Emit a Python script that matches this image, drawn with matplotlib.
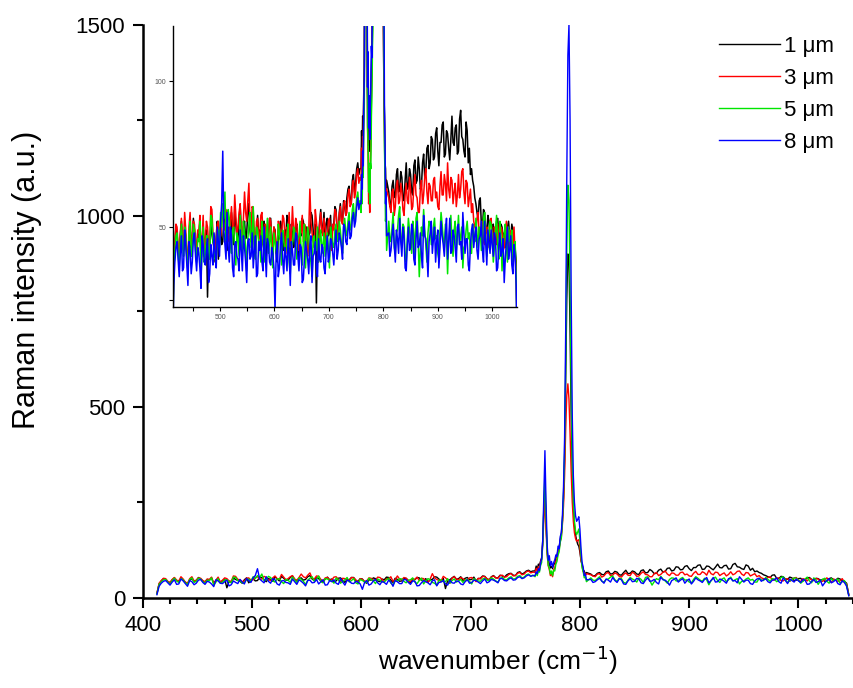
import matplotlib
matplotlib.use("Agg")
import matplotlib.pyplot as plt
import numpy as np
from matplotlib.ticker import MultipleLocator

plt.rcParams["font.family"] = ["Liberation Sans", "DejaVu Sans"]

# sampling grid (cm^-1): 2 cm^-1 on the baseline, 1 cm^-1 across the peaks
wn_low = np.arange(413, 758, 2)     # 413 ... 757
wn_peak = np.arange(759, 807, 1)    # 759 ... 806
wn_high = np.arange(810, 1047, 2)   # 810 ... 1046

labels = ["1 \u03bcm", "3 \u03bcm", "5 \u03bcm", "8 \u03bcm"]
colors = ["#000000", "#ff0000", "#00e600", "#0000ff"]

# ---- 1 um ----
black_low = [
    11, 36, 44, 50, 48, 42, 39, 47, 52, 45, 42, 49, 47, 40, 37, 46, 50, 43, 45, 53,
    49, 44, 41, 48, 46, 52, 38, 45, 51, 40, 44, 49, 26, 43, 40, 51, 48, 45, 43, 38,
    47, 52, 39, 46, 50, 44, 45, 54, 53, 47, 42, 50, 48, 43, 55, 49, 44, 56, 51, 46,
    46, 53, 57, 48, 43, 50, 52, 46, 48, 55, 58, 49, 45, 52, 50, 44, 41, 49, 54, 47,
    49, 42, 44, 51, 52, 46, 40, 48, 47, 53, 53, 45, 43, 50, 49, 41, 38, 47, 46, 52,
    50, 44, 42, 49, 47, 54, 53, 46, 40, 51, 48, 43, 44, 50, 51, 45, 39, 48, 47, 53,
    52, 46, 45, 50, 41, 47, 48, 55, 54, 49, 43, 51, 24, 45, 47, 52, 56, 48, 50, 55,
    45, 51, 53, 47, 48, 54, 44, 50, 51, 57, 56, 49, 47, 55, 58, 52, 52, 59, 57, 54,
    60, 63, 64, 59, 58, 66, 68, 62, 65, 70, 72, 68, 70,
]
black_peak = [
    70, 83, 74, 88, 84, 96, 105, 150, 230, 290,
    200, 125, 96, 90, 78, 82, 76, 90, 88, 104,
    110, 125, 132, 152, 168, 202, 260, 360, 560, 780,
    900, 880, 700, 480, 330, 240, 190, 165, 150, 140,
    135, 120, 98, 88, 72, 70, 60, 66,
]
black_high = [
    62, 57, 58, 64, 66, 61, 60, 68, 70, 62, 63, 69, 67, 60, 59, 66, 72, 63, 64, 70,
    68, 62, 61, 71, 73, 65, 66, 74, 70, 63, 64, 72, 75, 67, 69, 77, 78, 70, 72, 81,
    80, 73, 74, 82, 84, 76, 71, 79, 79, 85, 86, 74, 75, 83, 82, 77, 73, 80, 88, 79,
    78, 84, 85, 75, 76, 87, 90, 81, 80, 76, 74, 86, 83, 72, 77, 68, 70, 66, 64, 60,
    58, 55, 53, 59, 60, 51, 50, 56, 55, 49, 48, 54, 52, 45, 46, 50, 51, 44, 47, 52,
    53, 48, 45, 51, 50, 46, 48, 43, 44, 50, 52, 47, 46, 51, 49, 45, 43, 38, 8,
]

# ---- 3 um ----
red_low = [
    12, 38, 45, 51, 50, 43, 40, 48, 53, 46, 44, 55, 49, 41, 38, 50, 55, 44, 46, 52,
    51, 45, 42, 49, 48, 54, 37, 46, 54, 41, 46, 52, 50, 44, 43, 57, 56, 48, 47, 42,
    44, 51, 52, 46, 47, 53, 55, 49, 49, 56, 53, 47, 45, 52, 57, 50, 48, 61, 54, 47,
    50, 55, 58, 49, 46, 53, 62, 55, 52, 59, 65, 51, 49, 57, 56, 48, 44, 52, 53, 46,
    47, 54, 55, 48, 42, 51, 50, 45, 45, 53, 52, 47, 39, 50, 48, 43, 44, 52, 51, 46,
    46, 54, 53, 48, 41, 50, 49, 55, 43, 47, 57, 49, 47, 53, 51, 44, 42, 50, 48, 54,
    45, 51, 50, 43, 40, 49, 63, 52, 48, 45, 44, 56, 52, 47, 38, 51, 55, 49, 47, 53,
    50, 45, 46, 52, 53, 48, 42, 51, 49, 56, 55, 50, 47, 54, 57, 52, 51, 58, 59, 54,
    55, 61, 63, 57, 58, 64, 66, 60, 62, 68, 70, 65, 67,
]
red_peak = [
    66, 77, 70, 81, 78, 93, 100, 140, 205, 260,
    180, 115, 84, 74, 58, 62, 55, 73, 78, 95,
    102, 120, 127, 148, 158, 192, 240, 320, 440, 530,
    560, 520, 430, 330, 250, 200, 170, 155, 148, 150,
    152, 130, 97, 85, 68, 66, 58, 63,
]
red_high = [
    60, 57, 55, 62, 63, 54, 57, 64, 66, 58, 59, 65, 62, 56, 54, 61, 65, 59, 58, 67,
    63, 56, 57, 64, 68, 61, 60, 55, 55, 63, 66, 58, 61, 67, 70, 62, 58, 65, 64, 59,
    59, 66, 67, 60, 62, 57, 56, 64, 69, 61, 61, 68, 65, 59, 72, 63, 60, 67, 66, 58,
    62, 65, 57, 61, 68, 60, 63, 69, 70, 62, 58, 66, 65, 57, 60, 63, 55, 58, 52, 50,
    49, 53, 55, 47, 46, 51, 52, 45, 44, 49, 50, 43, 47, 52, 53, 46, 42, 50, 48, 44,
    51, 47, 45, 50, 49, 42, 43, 48, 52, 46, 40, 49, 47, 43, 44, 50, 41, 36, 7,
]

# ---- 5 um ----
green_low = [
    10, 35, 42, 47, 48, 41, 36, 45, 51, 44, 40, 50, 47, 39, 35, 48, 52, 40, 43, 51,
    49, 42, 38, 46, 45, 52, 33, 41, 50, 38, 41, 47, 47, 42, 39, 54, 53, 45, 44, 39,
    40, 47, 49, 43, 55, 50, 58, 53, 62, 45, 47, 56, 53, 44, 41, 49, 50, 42, 37, 48,
    46, 40, 54, 47, 40, 52, 48, 43, 35, 46, 51, 55, 43, 48, 57, 42, 39, 50, 49, 45,
    44, 38, 52, 47, 38, 43, 47, 53, 41, 45, 50, 39, 36, 48, 45, 42, 40, 51, 48, 44,
    37, 49, 46, 41, 42, 47, 51, 38, 34, 45, 44, 50, 49, 43, 39, 46, 47, 52, 41, 37,
    45, 51, 36, 44, 50, 47, 40, 38, 33, 46, 47, 42, 42, 50, 38, 45, 49, 41, 44, 48,
    40, 46, 48, 43, 36, 50, 46, 44, 43, 49, 51, 46, 45, 52, 49, 44, 41, 50, 53, 48,
    47, 52, 55, 49, 50, 56, 58, 52, 54, 60, 62, 57, 59,
]
green_peak = [
    55, 66, 58, 70, 67, 84, 92, 140, 240, 320,
    210, 120, 85, 78, 62, 70, 58, 72, 70, 88,
    95, 112, 120, 145, 156, 198, 270, 380, 620, 900,
    1080, 1040, 820, 560, 360, 250, 200, 175, 165, 172,
    180, 150, 110, 78, 68, 52, 55, 42,
]
green_high = [
    52, 46, 45, 50, 55, 43, 41, 48, 49, 54, 57, 47, 43, 51, 50, 40, 38, 46, 53, 49,
    46, 41, 52, 48, 40, 53, 55, 45, 33, 42, 50, 47, 56, 49, 44, 38, 48, 52, 51, 44,
    44, 50, 53, 46, 47, 41, 39, 48, 55, 51, 46, 43, 51, 47, 34, 45, 50, 54, 45, 40,
    49, 52, 42, 47, 54, 44, 47, 50, 36, 43, 44, 49, 52, 46, 48, 41, 41, 51, 47, 45,
    53, 48, 43, 50, 49, 42, 45, 53, 55, 47, 40, 44, 47, 52, 51, 46, 38, 43, 49, 54,
    44, 39, 52, 47, 35, 44, 48, 51, 43, 38, 50, 45, 46, 49, 38, 42, 45, 33, 6,
]

# ---- 8 um ----
blue_low = [
    8, 30, 38, 43, 45, 39, 33, 41, 47, 35, 36, 49, 44, 37, 30, 45, 42, 34, 38, 46,
    48, 40, 35, 43, 41, 36, 29, 47, 44, 38, 37, 42, 46, 31, 34, 44, 40, 37, 48, 41,
    36, 50, 45, 40, 52, 58, 76, 49, 44, 39, 55, 43, 38, 50, 47, 36, 33, 44, 45, 40,
    39, 35, 49, 42, 35, 47, 43, 38, 31, 45, 46, 39, 40, 48, 36, 42, 47, 33, 34, 45,
    42, 47, 38, 35, 50, 41, 33, 46, 44, 38, 37, 43, 41, 36, 22, 40, 45, 33, 36, 44,
    48, 39, 34, 43, 40, 35, 46, 41, 30, 45, 42, 37, 37, 48, 47, 40, 35, 44, 43, 31,
    32, 39, 45, 42, 39, 34, 44, 47, 31, 40, 41, 45, 36, 33, 46, 39, 38, 44, 43, 36,
    34, 42, 47, 38, 40, 46, 45, 41, 37, 44, 49, 39, 42, 48, 46, 43, 39, 51, 50, 45,
    44, 49, 52, 46, 47, 53, 55, 50, 52, 57, 60, 56, 58,
]
blue_peak = [
    58, 68, 63, 76, 71, 90, 102, 150, 270, 385,
    250, 140, 98, 110, 84, 95, 80, 92, 99, 112,
    108, 135, 128, 160, 170, 215, 290, 420, 700, 1100,
    1420, 1500, 1250, 800, 480, 320, 250, 215, 200, 205,
    212, 180, 130, 92, 80, 58, 62, 47,
]
blue_high = [
    48, 40, 42, 47, 51, 44, 38, 49, 46, 41, 53, 45, 40, 50, 47, 36, 35, 44, 50, 42,
    43, 51, 49, 39, 37, 46, 52, 43, 44, 48, 40, 36, 54, 47, 46, 41, 33, 45, 48, 52,
    41, 46, 50, 38, 45, 49, 36, 43, 52, 47, 44, 40, 48, 53, 39, 45, 53, 41, 42, 49,
    47, 43, 38, 50, 51, 44, 45, 39, 55, 48, 41, 46, 46, 37, 35, 44, 49, 51, 43, 47,
    50, 42, 39, 46, 47, 52, 42, 38, 52, 45, 37, 49, 45, 41, 49, 44, 40, 48, 46, 35,
    36, 43, 48, 40, 42, 46, 31, 39, 45, 50, 39, 42, 47, 37, 34, 44, 40, 30, 5,
]

wavenumber = np.concatenate([wn_low, wn_peak, wn_high])
spectra = [
    np.concatenate([black_low, black_peak, black_high]),
    np.concatenate([red_low, red_peak, red_high]),
    np.concatenate([green_low, green_peak, green_high]),
    np.concatenate([blue_low, blue_peak, blue_high]),
]

fig = plt.figure(figsize=(8.54, 6.88), dpi=100)
ax = fig.add_axes([0.1671, 0.1312, 0.8319, 0.8329])

for y, c, lab in zip(spectra, colors, labels):
    ax.plot(wavenumber, y, color=c, lw=1.0, label=lab)

ax.set_xlim(400, 1050)
ax.set_ylim(0, 1500)
ax.xaxis.set_major_locator(MultipleLocator(100))
ax.xaxis.set_minor_locator(MultipleLocator(25))
ax.yaxis.set_major_locator(MultipleLocator(500))
ax.yaxis.set_minor_locator(MultipleLocator(250))
ax.tick_params(which="major", direction="out", length=7.5, width=1.5,
               labelsize=16, pad=5)
ax.tick_params(which="minor", direction="out", length=4.5, width=1.5)
for side in ("top", "right"):
    ax.spines[side].set_visible(False)
for side in ("left", "bottom"):
    ax.spines[side].set_linewidth(1.8)

ax.set_xlabel("wavenumber (cm$^{-1}$)", fontsize=19)
ax.set_ylabel("Raman intensity (a.u.)", fontsize=22)
ax.xaxis.label.set_va("center")
ax.yaxis.label.set_va("center")
ax.xaxis.set_label_coords(0.5, -0.109)
ax.yaxis.set_label_coords(-0.163, 0.554)

leg = ax.legend(loc="upper left", bbox_to_anchor=(0.842, 0.948),
                bbox_transform=fig.transFigure, frameon=False, fontsize=16,
                handlelength=2.75, handletextpad=0.15, labelspacing=0.5,
                borderpad=0, borderaxespad=0)
for line in leg.get_lines():
    line.set_linewidth(1.0)

# inset: zoom on the baseline
ins = fig.add_axes([0.2022, 0.5533, 0.4035, 0.4094])
for y, c in zip(spectra, colors):
    ins.plot(wavenumber, y, color=c, lw=1.1)
ins.set_xlim(413, 1046)
ins.set_ylim(22.5, 119)
ins.xaxis.set_major_locator(MultipleLocator(100))
ins.xaxis.set_minor_locator(MultipleLocator(50))
ins.yaxis.set_major_locator(MultipleLocator(50))
ins.yaxis.set_minor_locator(MultipleLocator(25))
ins.tick_params(which="both", direction="out", length=3, width=0.8,
                labelsize=5, pad=1.5, labelcolor="#555555")
for side in ("top", "right"):
    ins.spines[side].set_visible(False)
for side in ("left", "bottom"):
    ins.spines[side].set_linewidth(1.0)
ins.patch.set_alpha(0)

fig.savefig("out.png", dpi=100)
